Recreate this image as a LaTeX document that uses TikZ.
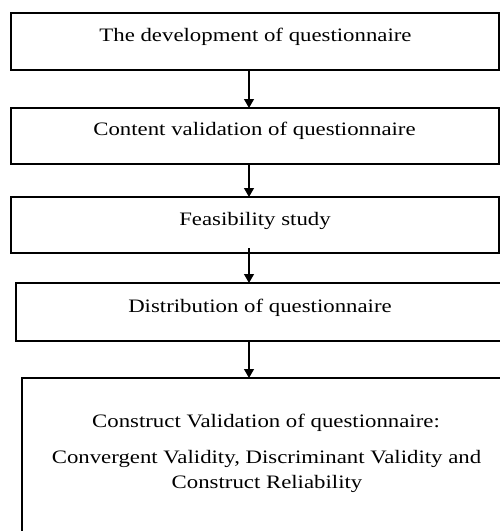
\documentclass[tikz,border=0pt]{standalone}
\usepackage{fontspec}
\usetikzlibrary{arrows.meta}
\newfontfamily\boxfont[FakeStretch=1.2]{Liberation Serif}
\begin{document}
\begin{tikzpicture}[x=1pt,y=-1pt,
  stage/.style={draw=black, line width=1.6pt, rectangle, inner sep=0pt, outer sep=0pt, anchor=north west},
  label/.style={anchor=base, inner sep=0pt, font=\boxfont\fontsize{19}{25}\selectfont},
  flow/.style={line width=1.1pt, -{Triangle[width=10pt,length=9pt]}}]
  \clip (0,0) rectangle (500,531);
  \fill[white] (0,0) rectangle (500,531);

  % stage boxes
  \node[stage, minimum width=488pt, minimum height=57pt] (b1) at (11,13) {};
  \node[stage, minimum width=488pt, minimum height=56pt] (b2) at (11,108) {};
  \node[stage, minimum width=488pt, minimum height=56pt] (b3) at (11,197) {};
  \node[stage, minimum width=500pt, minimum height=58pt] (b4) at (16,283) {};
  \node[stage, minimum width=500pt, minimum height=170pt] (b5) at (22,378) {};

  % box texts
  \node[label] (t1) at (255.5,41) {The development of questionnaire};
  \node[label] (t2) at (254.5,135) {Content validation of questionnaire};
  \node[label] (t3) at (255,225) {Feasibility study};
  \node[label] (t4) at (260,312) {Distribution of questionnaire};
  \node[label] (t5a) at (266,427) {Construct Validation of questionnaire:};
  \node[label] (t5b) at (266.5,463) {Convergent Validity, Discriminant Validity and};
  \node[label] (t5c) at (267,488) {Construct Reliability};

  % connectors
  \coordinate (ax) at (249,0);
  \draw[flow] (b1.south -| ax) -- (b2.north -| ax);
  \draw[flow] (b2.south -| ax) -- (b3.north -| ax);
  \draw[flow] ([yshift=5pt]b3.south -| ax) -- (b4.north -| ax);
  \draw[flow] (b4.south -| ax) -- (b5.north -| ax);
\end{tikzpicture}
\end{document}
